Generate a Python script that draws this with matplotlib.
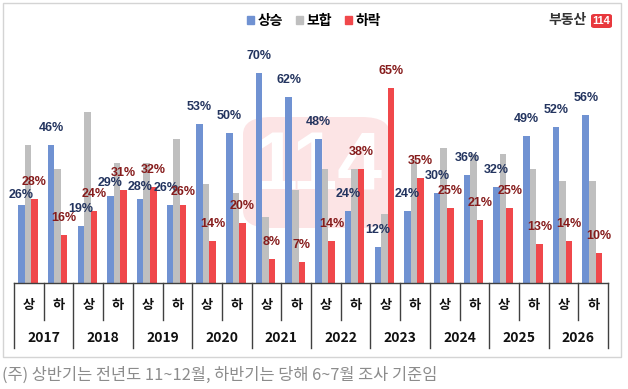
import matplotlib
matplotlib.use('Agg')
import matplotlib.pyplot as plt
from matplotlib.patches import Patch, FancyBboxPatch, Rectangle
import matplotlib.transforms as mtransforms

plt.rcParams['font.family'] = ['Noto Sans CJK KR', 'DejaVu Sans']

years = ['2017', '2018', '2019', '2020', '2021', '2022', '2023', '2024', '2025', '2026']
halves = ['상', '하']
series_names = ['상승', '보합', '하락']
rise = [26, 46, 19, 29, 28, 26, 53, 50, 70, 62, 48, 24, 12, 24, 30, 36, 32, 49, 52, 56]
flat = [46, 38, 57, 40, 40, 48, 33, 30, 22, 31, 38, 38, 23, 41, 45, 43, 43, 38, 34, 34]
fall = [28, 16, 24, 31, 32, 26, 14, 20, 8, 7, 14, 38, 65, 35, 25, 21, 25, 13, 14, 10]
footnote = '(주) 상반기는 전년도 11~12월, 하반기는 당해 6~7월 조사 기준임'

C_BLUE = '#7092D2'
C_GRAY = '#BFBFBF'
C_RED = '#F0484B'
T_BLUE = '#23345F'
T_RED = '#861C1C'

# label placement tweaks (points above bar top; default 12)
rise_lift = {0: 7, 3: 9.5, 4: 9}
fall_lift = {5: 9.5}
rise_dx = {5: -3}

W, H = 628, 389
fig = plt.figure(figsize=(W / 100, H / 100), dpi=100)

# chart frame
fig.add_artist(Rectangle((3 / W, 1 - 357 / H), 618 / W, 354 / H, transform=fig.transFigure,
                         fill=False, edgecolor='#D4D4D4', lw=1.0))

# watermark (behind the bars)
fig.add_artist(FancyBboxPatch((243 / W, 1 - 228 / H), 147 / W, 111 / H,
                              boxstyle='round,pad=0,rounding_size=0.045',
                              transform=fig.transFigure, facecolor='#FCE4E5',
                              edgecolor='none', zorder=-2))
fig.text(318 / W, 1 - 168 / H, '114', ha='center', va='center', fontsize=58,
         fontweight='bold', color='white', zorder=-1,
         family=['Liberation Sans', 'DejaVu Sans'])

ax = fig.add_axes([14 / W, 1 - 283 / H, 594 / W, 270 / H])
ax.patch.set_visible(False)
n = len(rise)
xs = list(range(n))
bw = 0.22
off = -0.03
ax.bar([x + off - bw for x in xs], rise, bw, color=C_BLUE, zorder=2)
ax.bar([x + off for x in xs], flat, bw, color=C_GRAY, zorder=2)
ax.bar([x + off + bw for x in xs], fall, bw, color=C_RED, zorder=2)

for x, v in zip(xs, rise):
    ax.annotate(f'{v}%', (x + off - bw, v), xytext=(rise_dx.get(x, 0), rise_lift.get(x, 12)),
                textcoords='offset points',
                ha='center', va='center', fontsize=9, fontweight='bold', color=T_BLUE,
                family=['Liberation Sans', 'DejaVu Sans'], zorder=5)
for x, v in zip(xs, fall):
    ax.annotate(f'{v}%', (x + off + bw, v), xytext=(0, fall_lift.get(x, 12)),
                textcoords='offset points',
                ha='center', va='center', fontsize=9, fontweight='bold', color=T_RED,
                family=['Liberation Sans', 'DejaVu Sans'], zorder=5)

ax.set_xlim(-0.5, n - 0.5)
ax.set_ylim(0, 90)
ax.set_xticks([])
ax.set_yticks([])
for s in ['top', 'right', 'left']:
    ax.spines[s].set_visible(False)
ax.spines['bottom'].set_color('#404040')
ax.spines['bottom'].set_linewidth(1.0)

# category axis (multi-level)
tr = mtransforms.blended_transform_factory(ax.transData, ax.transAxes)
ah = 270.0
for k in range(len(years) + 1):
    xb = 2 * k - 0.5
    ax.plot([xb, xb], [0, -65 / ah], color='#404040', lw=1.0, transform=tr, clip_on=False)
for k in range(len(years)):
    xm = 2 * k + 0.5
    ax.plot([xm, xm], [0, -37 / ah], color='#404040', lw=1.0, transform=tr, clip_on=False)
for i in xs:
    ax.text(i, -22 / ah, halves[i % 2], transform=tr, ha='center', va='center',
            fontsize=9.5, fontweight='bold', color='#111111')
for k, y in enumerate(years):
    ax.text(2 * k + 0.5, -55 / ah, y, transform=tr, ha='center', va='center',
            fontsize=10, fontweight='bold', color='#111111')

# legend
handles = [Patch(color=c) for c in (C_BLUE, C_GRAY, C_RED)]
fig.legend(handles, series_names, loc='center', bbox_to_anchor=(314 / W, 1 - 21 / H), ncol=3,
           frameon=False, handlelength=0.55, handleheight=0.55, handletextpad=0.25,
           columnspacing=0.9, prop={'size': 10, 'weight': 'bold'}, borderaxespad=0)

# brand logo
fig.text(587 / W, 1 - 20 / H, '부동산', ha='right', va='center', fontsize=10,
         fontweight='bold', color='#333333')
fig.add_artist(FancyBboxPatch((591 / W, 1 - 28 / H), 21 / W, 14 / H,
                              boxstyle='round,pad=0,rounding_size=0.005',
                              transform=fig.transFigure, facecolor='#E8383D', edgecolor='none'))
fig.text(601.5 / W, 1 - 21 / H, '114', ha='center', va='center', fontsize=8,
         fontweight='bold', color='white', family=['Liberation Sans', 'DejaVu Sans'])

# footnote
fig.text(2 / W, 1 - 375 / H, footnote, ha='left', va='center', fontsize=11.8, color='#8C8C8C')

fig.savefig('out.png', dpi=100)
